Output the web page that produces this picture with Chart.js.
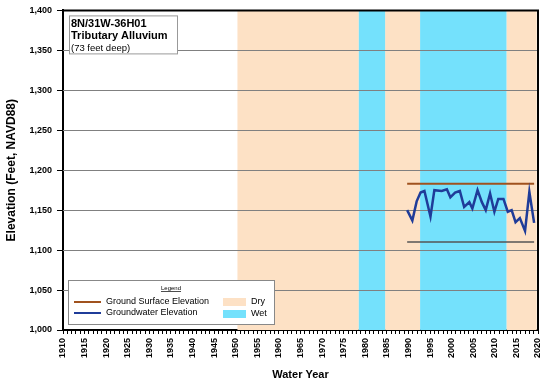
<!DOCTYPE html>
<html>
<head>
<meta charset="utf-8">
<script src="https://cdn.jsdelivr.net/npm/chart.js@4.4.1/dist/chart.umd.min.js"></script>
<style>
  html, body { margin: 0; padding: 0; background: #fff; }
  #wrap { width: 543px; height: 385px; position: relative; }
</style>
</head>
<body>
<div id="wrap"><canvas id="myChart"></canvas></div>
<script>
// groundwater readings, water year vs elevation (ft)
const gwYears = [1989.7, 1990.9, 1991.9, 1992.8, 1993.7, 1995.1, 1996.0, 1997.7, 1998.9, 1999.7,
                 2000.8, 2001.9, 2002.9, 2004.1, 2004.8, 2006.0, 2007.0, 2007.9, 2008.9, 2009.9,
                 2010.8, 2012.0, 2013.0, 2013.9, 2014.8, 2015.8, 2017.0, 2018.0, 2019.1];
const gwElev = [1150, 1137, 1161, 1172, 1174, 1142, 1175, 1174, 1176, 1166,
                1172, 1174, 1154, 1160, 1152, 1175, 1160, 1150, 1171, 1148,
                1164, 1164, 1148, 1150, 1135, 1140, 1124, 1173, 1134];

const surfaceYears = [1989.7, 2019.1];
const surfaceElev = [1183, 1183];
const bottomElev = [1110, 1110];

// dry / wet periods (start, end)
const dryPeriods = [[1950.4, 1978.5], [1984.6, 1992.7], [2012.7, 2019.7]];
const wetPeriods = [[1978.5, 1984.6], [1992.7, 2012.7]];

const yTicks = [1000, 1050, 1100, 1150, 1200, 1250, 1300, 1350, 1400];
const titleLines = ['8N/31W-36H01', 'Tributary Alluvium', '(73 feet deep)'];

const DRY = 'rgb(253,225,197)';
const WET = 'rgb(116,225,252)';
const FONT = '"Liberation Sans", Arial, sans-serif';

function toPoints(xs, ys){
    return xs.map((x, i) => ({x: x, y: ys[i]}));
}

const bandsPlugin = {
    id: 'bands',
    beforeDatasetsDraw(chart){
        const {ctx, chartArea, scales} = chart;
        ctx.save();
        const drawBand = (p, color) => {
            const x1 = scales.x.getPixelForValue(p[0]);
            const x2 = scales.x.getPixelForValue(p[1]);
            ctx.fillStyle = color;
            ctx.fillRect(x1, chartArea.top, x2 - x1, chartArea.bottom - chartArea.top);
        };
        dryPeriods.forEach(p => drawBand(p, DRY));
        wetPeriods.forEach(p => drawBand(p, WET));
        // grid lines over the bands
        ctx.strokeStyle = '#808080';
        ctx.lineWidth = 1;
        yTicks.forEach(v => {
            if (v == 1000 || v == 1400) return;
            const y = Math.round(scales.y.getPixelForValue(v)) + 0.5;
            ctx.beginPath();
            ctx.moveTo(chartArea.left, y);
            ctx.lineTo(chartArea.right, y);
            ctx.stroke();
        });
        ctx.restore();
    },
    afterDraw(chart){
        const {ctx, chartArea} = chart;
        ctx.save();
        // frame top and right
        ctx.strokeStyle = '#000';
        ctx.lineWidth = 2;
        ctx.beginPath();
        ctx.moveTo(chartArea.left, chartArea.top);
        ctx.lineTo(chartArea.right, chartArea.top);
        ctx.lineTo(chartArea.right, chartArea.bottom);
        ctx.stroke();

        // title box
        const bx = chartArea.left + 6, by = chartArea.top + 5;
        ctx.fillStyle = '#fff';
        ctx.fillRect(bx, by, 108, 38);
        ctx.strokeStyle = '#999';
        ctx.lineWidth = 1;
        ctx.strokeRect(bx + 0.5, by + 0.5, 108, 38);
        ctx.fillStyle = '#000';
        ctx.textBaseline = 'middle';
        ctx.textAlign = 'left';
        ctx.font = 'bold 11px ' + FONT;
        ctx.fillText(titleLines[0], bx + 2, by + 9);
        ctx.fillText(titleLines[1], bx + 2, by + 21);
        ctx.font = '9.5px ' + FONT;
        ctx.fillText(titleLines[2], bx + 2, by + 33);

        // legend box
        const lx = chartArea.left + 5, ly = chartArea.bottom - 50;
        ctx.fillStyle = '#fff';
        ctx.fillRect(lx, ly, 206, 44);
        ctx.strokeStyle = '#888';
        ctx.strokeRect(lx + 0.5, ly + 0.5, 206, 44);
        ctx.fillStyle = '#000';
        ctx.textAlign = 'center';
        ctx.font = '6px ' + FONT;
        ctx.fillText('Legend', lx + 103, ly + 8);
        const lw = ctx.measureText('Legend').width;
        ctx.fillRect(lx + 103 - lw / 2, ly + 11, lw, 0.7);

        ctx.textAlign = 'left';
        ctx.font = '9px ' + FONT;
        ctx.lineWidth = 2;
        ctx.strokeStyle = '#a0521e';
        ctx.beginPath(); ctx.moveTo(lx + 6, ly + 22); ctx.lineTo(lx + 33, ly + 22); ctx.stroke();
        ctx.fillText('Ground Surface Elevation', lx + 38, ly + 22);
        ctx.strokeStyle = '#1f3c99';
        ctx.beginPath(); ctx.moveTo(lx + 6, ly + 33); ctx.lineTo(lx + 33, ly + 33); ctx.stroke();
        ctx.fillText('Groundwater Elevation', lx + 38, ly + 33);

        ctx.fillStyle = DRY;
        ctx.fillRect(lx + 155, ly + 18, 23, 8);
        ctx.fillStyle = WET;
        ctx.fillRect(lx + 155, ly + 30, 23, 8);
        ctx.fillStyle = '#000';
        ctx.fillText('Dry', lx + 183, ly + 22);
        ctx.fillText('Wet', lx + 183, ly + 34);
        ctx.restore();
    }
};

function getChart(){
    const ctx = document.getElementById('myChart');

    new Chart(ctx, {
        type: 'scatter',
        data: {
            datasets: [{
                label: 'Groundwater Elevation',
                data: toPoints(gwYears, gwElev),
                showLine: true,
                borderColor: '#1f3c99',
                borderWidth: 2.5,
                pointRadius: 0,
                tension: 0
            }, {
                label: 'Ground Surface Elevation',
                data: toPoints(surfaceYears, surfaceElev),
                showLine: true,
                borderColor: '#a0521e',
                borderWidth: 2,
                pointRadius: 0
            }, {
                label: 'Well Bottom',
                data: toPoints(surfaceYears, bottomElev),
                showLine: true,
                borderColor: '#555',
                borderWidth: 1.5,
                pointRadius: 0
            }]
        },
        options: {
            responsive: true,
            maintainAspectRatio: false,
            animation: false,
            layout: { padding: { top: 10, right: 5, left: 2, bottom: 0 } },
            plugins: {
                legend: { display: false },
                tooltip: { enabled: false }
            },
            scales: {
                x: {
                    type: 'linear',
                    min: 1910,
                    max: 2020,
                    afterBuildTicks: (axis) => {
                        const t = [];
                        for (let y = 1910; y <= 2020; y++) t.push({value: y});
                        axis.ticks = t;
                    },
                    afterFit: (axis) => {
                        axis.height = 55;
                        axis.paddingRight = 0;
                        axis.paddingLeft = 0;
                    },
                    ticks: {
                        autoSkip: false,
                        maxRotation: 90,
                        minRotation: 90,
                        padding: 4,
                        color: '#000',
                        font: { size: 9, weight: 'bold', family: FONT },
                        callback: (v) => (v % 5 == 0 ? String(v) : '')
                    },
                    grid: {
                        drawOnChartArea: false,
                        tickLength: 4,
                        tickColor: '#000',
                        tickWidth: 1
                    },
                    border: { color: '#000', width: 2 },
                    title: {
                        display: true,
                        text: 'Water Year',
                        color: '#000',
                        font: { size: 11, weight: 'bold', family: FONT },
                        padding: { top: 4, bottom: 3 }
                    }
                },
                y: {
                    min: 1000,
                    max: 1400,
                    afterBuildTicks: (axis) => {
                        axis.ticks = yTicks.map(v => ({value: v}));
                    },
                    afterFit: (axis) => {
                        axis.width = 61;
                    },
                    ticks: {
                        color: '#000',
                        padding: 5,
                        font: { size: 9, weight: 'bold', family: FONT },
                        callback: (v) => v.toLocaleString('en-US')
                    },
                    grid: {
                        drawOnChartArea: false,
                        tickLength: 6,
                        tickColor: '#000'
                    },
                    border: { color: '#000', width: 2 },
                    title: {
                        display: true,
                        text: 'Elevation (Feet, NAVD88)',
                        color: '#000',
                        font: { size: 12, weight: 'bold', family: FONT },
                        padding: { top: 2, bottom: 6 }
                    }
                }
            }
        },
        plugins: [bandsPlugin]
    });
}

document.addEventListener('DOMContentLoaded', (event) => {
    getChart();
});
</script>
</body>
</html>
